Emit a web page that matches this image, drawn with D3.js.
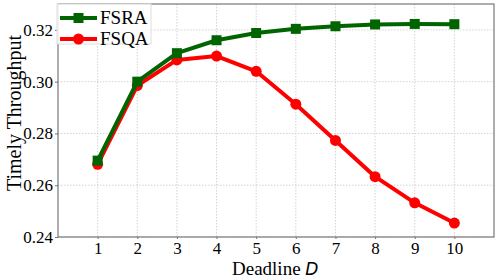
<!DOCTYPE html>
<html>
<head>
<meta charset="utf-8">
<script src="https://cdn.jsdelivr.net/npm/d3@7"></script>
<style>
  body { margin: 0; background: #fff; }
  .grid line { stroke: #c8c8c8; stroke-width: 0.8; stroke-dasharray: 1.5,1.5; }
</style>
</head>
<body>
<script>

const deadlines = [1, 2, 3, 4, 5, 6, 7, 8, 9, 10];
const fsra = [0.2695, 0.3000, 0.3110, 0.3160, 0.3188, 0.3204, 0.3214, 0.3221, 0.3223, 0.3222];
const fsqa = [0.2681, 0.2985, 0.3084, 0.3099, 0.3040, 0.2913, 0.2773, 0.2633, 0.2532, 0.2454];
const yTicks = [0.24, 0.26, 0.28, 0.30, 0.32];

const serif = "'Liberation Serif', 'Times New Roman', serif";
const width = 498, height = 280;
const margin = { top: 4, right: 4, bottom: 43, left: 58 };

const svg = d3.select("body").append("svg")
    .attr("width", width)
    .attr("height", height);

const x = d3.scaleLinear()
    .domain([0, 11])
    .range([margin.left, width - margin.right]);

const y = d3.scaleLinear()
    .domain([0.24, 0.33])
    .range([height - margin.bottom, margin.top]);

// Grid

const grid = svg.append("g").attr("class", "grid");

grid.selectAll(".gx")
    .data(deadlines)
    .join("line")
    .attr("x1", d => x(d)).attr("x2", d => x(d))
    .attr("y1", margin.top).attr("y2", height - margin.bottom);

grid.selectAll(".gy")
    .data(yTicks)
    .join("line")
    .attr("class", "gy")
    .attr("x1", margin.left).attr("x2", width - margin.right)
    .attr("y1", d => y(d)).attr("y2", d => y(d));

// Axes

const xAxis = svg.append("g")
    .attr("transform", `translate(0,${ height - margin.bottom })`)
    .call(d3.axisBottom(x).tickValues(deadlines).tickSize(2).tickPadding(3).tickFormat(d3.format("d")));

const yAxis = svg.append("g")
    .attr("transform", `translate(${ margin.left },0)`)
    .call(d3.axisLeft(y).tickValues(yTicks).tickSize(3).tickPadding(2).tickFormat(d3.format(".2f")));

svg.selectAll(".domain").remove();
svg.selectAll(".tick line").attr("stroke", "#777");
svg.selectAll(".tick text")
    .attr("font-family", serif)
    .attr("font-size", 17)
    .attr("fill", "#000");

// Frame

svg.append("rect")
    .attr("x", margin.left)
    .attr("y", margin.top)
    .attr("width", width - margin.left - margin.right)
    .attr("height", height - margin.top - margin.bottom)
    .attr("fill", "none")
    .attr("stroke", "#777")
    .attr("stroke-width", 1.2);

// Lines

const line = d3.line()
    .x((d, i) => x(deadlines[i]))
    .y(d => y(d));

svg.append("path")
    .datum(fsqa)
    .attr("fill", "none")
    .attr("stroke", "#ff0000")
    .attr("stroke-width", 4)
    .attr("stroke-linejoin", "round")
    .attr("d", line);

svg.selectAll(".dot-fsqa")
    .data(fsqa)
    .join("circle")
    .attr("cx", (d, i) => x(deadlines[i]))
    .attr("cy", d => y(d))
    .attr("r", 5.5)
    .attr("fill", "#ff0000");

svg.append("path")
    .datum(fsra)
    .attr("fill", "none")
    .attr("stroke", "#006400")
    .attr("stroke-width", 4)
    .attr("stroke-linejoin", "round")
    .attr("d", line);

svg.selectAll(".sq-fsra")
    .data(fsra)
    .join("rect")
    .attr("x", (d, i) => x(deadlines[i]) - 5)
    .attr("y", d => y(d) - 5)
    .attr("width", 10)
    .attr("height", 10)
    .attr("fill", "#006400");

// Legend

const legend = svg.append("g");

legend.append("rect")
    .attr("x", 57).attr("y", 4)
    .attr("width", 94).attr("height", 40)
    .attr("fill", "#fff")
    .attr("fill-opacity", 0.85)
    .attr("stroke", "#ddd");

const items = [
    { name: "FSRA", color: "#006400", shape: "square" },
    { name: "FSQA", color: "#ff0000", shape: "circle" }
];

items.forEach((it, i) => {
    const cy = 18 + i * 21;
    legend.append("line")
        .attr("x1", 60).attr("x2", 97)
        .attr("y1", cy).attr("y2", cy)
        .attr("stroke", it.color)
        .attr("stroke-width", 4);
    if (it.shape === "square") {
        legend.append("rect")
            .attr("x", 73.5).attr("y", cy - 5)
            .attr("width", 10).attr("height", 10)
            .attr("fill", it.color);
    } else {
        legend.append("circle")
            .attr("cx", 78.5).attr("cy", cy)
            .attr("r", 5.5)
            .attr("fill", it.color);
    }
    legend.append("text")
        .attr("x", 100)
        .attr("y", cy + 6)
        .attr("font-family", serif)
        .attr("font-size", 19)
        .text(it.name);
});

// Axis labels

const xl = svg.append("text")
    .attr("x", 232)
    .attr("y", 275)
    .attr("font-family", serif)
    .attr("font-size", 19);
xl.append("tspan").text("Deadline ");
xl.append("tspan")
    .attr("font-family", "DejaVu Sans")
    .attr("font-style", "oblique")
    .attr("font-size", 17)
    .text("D");

svg.append("text")
    .attr("transform", `translate(21,113) rotate(-90)`)
    .attr("text-anchor", "middle")
    .attr("font-family", serif)
    .attr("font-size", 20)
    .text("Timely Throughput");

</script>
</body>
</html>
